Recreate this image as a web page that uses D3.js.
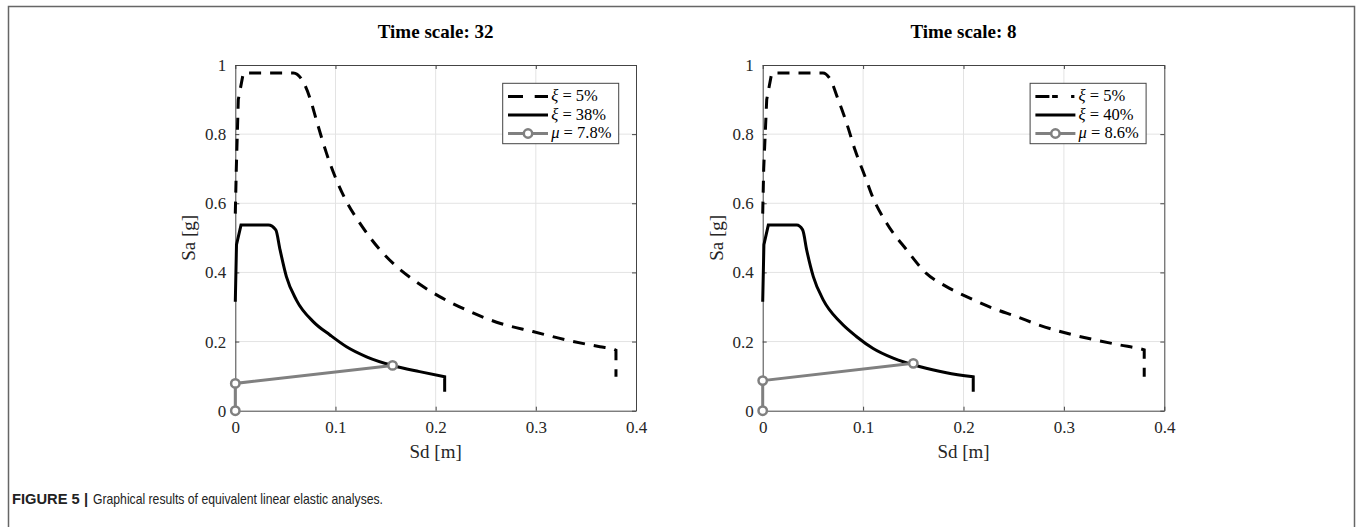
<!DOCTYPE html>
<html>
<head>
<meta charset="utf-8">
<script src="https://cdn.jsdelivr.net/npm/d3@7"></script>
<style>
  body { margin: 0; background: #fff; }
  svg { display: block; }
</style>
</head>
<body>
<svg id="chart" width="1357" height="527"></svg>
<script>
// panel titles and legend labels
const titles = ['Time scale: 32', 'Time scale: 8']
const legendXi5 = ['5%', '5%']
const legendXiEq = ['38%', '40%']
const legendMu = ['7.8%', '8.6%']

const xTicks = [0, 0.1, 0.2, 0.3, 0.4]
const yTicks = [0, 0.2, 0.4, 0.6, 0.8, 1]

// xi = 5% spectrum, [Sd, Sa]
const spec5Left = [[0, 0.57], [0.001, 0.70], [0.003, 0.90], [0.008, 0.977], [0.058, 0.977], [0.066, 0.96],
  [0.075, 0.90], [0.081, 0.84], [0.091, 0.745], [0.101, 0.667], [0.111, 0.605], [0.1245, 0.542],
  [0.1445, 0.465], [0.161, 0.417], [0.178, 0.378], [0.204, 0.33], [0.231, 0.291], [0.264, 0.253],
  [0.297, 0.229], [0.330, 0.205], [0.364, 0.185], [0.378, 0.178], [0.38, 0.175], [0.38, 0.098]]
const spec5Right = [[0, 0.57], [0.001, 0.70], [0.004, 0.90], [0.009, 0.977], [0.060, 0.977], [0.067, 0.96],
  [0.0753, 0.899], [0.0837, 0.831], [0.092, 0.754], [0.102, 0.677], [0.110, 0.615], [0.1235, 0.542],
  [0.1434, 0.465], [0.163, 0.397], [0.183, 0.359], [0.203, 0.33], [0.2297, 0.296], [0.253, 0.272],
  [0.276, 0.247], [0.303, 0.224], [0.329, 0.206], [0.356, 0.19], [0.376, 0.179], [0.38, 0.176], [0.38, 0.098]]

// equivalent damping spectrum
const specEqLeft = [[0, 0.315], [0.0012, 0.48], [0.0057, 0.537], [0.033, 0.537], [0.0404, 0.523],
  [0.0447, 0.465], [0.051, 0.388], [0.061, 0.32], [0.078, 0.257], [0.0945, 0.219], [0.111, 0.185],
  [0.131, 0.156], [0.158, 0.130], [0.184, 0.113], [0.209, 0.098], [0.209, 0.055]]
const specEqRight = [[0, 0.315], [0.0012, 0.48], [0.0056, 0.537], [0.0339, 0.537], [0.0398, 0.523],
  [0.0438, 0.465], [0.0504, 0.388], [0.0604, 0.32], [0.077, 0.257], [0.0936, 0.214], [0.110, 0.18],
  [0.130, 0.152], [0.157, 0.127], [0.183, 0.11], [0.2097, 0.098], [0.2097, 0.055]]

// ductility path
const muLeft = [[0, 0], [0, 0.079], [0.157, 0.131]]
const muRight = [[0, 0], [0, 0.087], [0.150, 0.137]]

const panels = [
  { left: 235.3, right: 636, spec5: spec5Left, specEq: specEqLeft, mu: muLeft, dashLegend: '15,11.7,13.3' },
  { left: 762.7, right: 1164.3, spec5: spec5Right, specEq: specEqRight, mu: muRight, dashLegend: '14,2.7,5.7,13.3,3.3' }
]
const plotTop = 65, plotBottom = 410.7

const svg = d3.select('#chart')
const serif = '"Liberation Serif", "Times New Roman", serif'

svg.append('rect').attr('x', 8.5).attr('y', 6.5).attr('width', 1346).attr('height', 560)
  .attr('fill', 'none').attr('stroke', '#666').attr('stroke-width', 1.5)

panels.forEach(function (p, i) {
  const x = d3.scaleLinear().domain([0, 0.4]).range([p.left, p.right])
  const y = d3.scaleLinear().domain([0, 1]).range([plotBottom, plotTop])
  const g = svg.append('g')

  // grid
  g.selectAll('.gx').data(xTicks.slice(1, -1)).join('line')
    .attr('x1', d => x(d)).attr('x2', d => x(d)).attr('y1', plotTop).attr('y2', plotBottom)
    .attr('stroke', '#e3e3e3').attr('stroke-width', 1)
  g.selectAll('.gy').data(yTicks.slice(1, -1)).join('line')
    .attr('y1', d => y(d)).attr('y2', d => y(d)).attr('x1', p.left).attr('x2', p.right)
    .attr('stroke', '#e3e3e3').attr('stroke-width', 1)

  // axes (ticks inward, box on)
  const ax = g.append('g').attr('transform', 'translate(0,' + plotBottom + ')')
    .call(d3.axisBottom(x).tickValues(xTicks).tickSizeInner(-4).tickSizeOuter(0).tickPadding(10).tickFormat(d3.format('')))
  const axTop = g.append('g').attr('transform', 'translate(0,' + plotTop + ')')
    .call(d3.axisTop(x).tickValues(xTicks).tickSizeInner(-4).tickSizeOuter(0).tickFormat(''))
  const ay = g.append('g').attr('transform', 'translate(' + p.left + ',0)')
    .call(d3.axisLeft(y).tickValues(yTicks).tickSizeInner(-4).tickSizeOuter(0).tickPadding(9).tickFormat(d3.format('')))
  const ayR = g.append('g').attr('transform', 'translate(' + p.right + ',0)')
    .call(d3.axisRight(y).tickValues(yTicks).tickSizeInner(-4).tickSizeOuter(0).tickFormat(''))
  ;[ax, axTop, ay, ayR].forEach(function (a) {
    a.attr('font-family', serif).attr('font-size', 17)
    a.select('.domain').attr('stroke', '#444').attr('stroke-width', 1)
    a.selectAll('.tick line').attr('stroke', '#444')
    a.selectAll('text').style('font-family', serif).attr('font-size', 17).attr('fill', '#262626')
  })
  ax.selectAll('text').attr('dy', '0.71em')

  // curves: straight rise, smooth middle, straight vertical drop
  const lin = d3.line().x(d => x(d[0])).y(d => y(d[1]))
  const smooth = d3.line().x(d => x(d[0])).y(d => y(d[1])).curve(d3.curveMonotoneX)
  function piecewise(data, a) {
    const b = data.length - 2
    return lin(data.slice(0, a + 1)) +
      smooth(data.slice(a, b + 1)).replace(/^M/, 'L') +
      lin(data.slice(b)).replace(/^M/, 'L')
  }
  g.append('path').attr('d', piecewise(p.spec5, 3)).attr('fill', 'none')
    .attr('stroke', '#000').attr('stroke-width', 3).attr('stroke-dasharray', '12,9')
  g.append('path').attr('d', piecewise(p.specEq, 2)).attr('fill', 'none')
    .attr('stroke', '#000').attr('stroke-width', 3)
  g.append('path').datum(p.mu).attr('d', lin).attr('fill', 'none')
    .attr('stroke', '#808080').attr('stroke-width', 3)
  g.selectAll('.mk').data(p.mu).join('circle')
    .attr('cx', d => x(d[0])).attr('cy', d => y(d[1])).attr('r', 4.2)
    .attr('fill', '#fff').attr('stroke', '#808080').attr('stroke-width', 2.5)

  // labels
  g.append('text').attr('x', (p.left + p.right) / 2).attr('y', 38).attr('text-anchor', 'middle')
    .style('font-family', serif).attr('font-weight', 'bold').attr('font-size', 19).text(titles[i])
  g.append('text').attr('x', (p.left + p.right) / 2).attr('y', 458).attr('text-anchor', 'middle')
    .style('font-family', serif).attr('font-size', 19).attr('fill', '#262626').text('Sd [m]')
  g.append('text').attr('transform', 'translate(' + (p.left - 40) + ',' + ((plotTop + plotBottom) / 2) + ') rotate(-90)')
    .attr('text-anchor', 'middle').style('font-family', serif).attr('font-size', 19).attr('fill', '#262626').text('Sa [g]')

  // legend
  const lx = p.left + 267.4, ly = 83.3
  const lg = g.append('g')
  lg.append('rect').attr('x', lx).attr('y', ly).attr('width', 116).attr('height', 60.4)
    .attr('fill', '#fff').attr('stroke', '#444').attr('stroke-width', 1)
  const rows = [
    { sym: 'ξ', val: legendXi5[i], color: '#000', dash: p.dashLegend },
    { sym: 'ξ', val: legendXiEq[i], color: '#000', dash: null },
    { sym: 'μ', val: legendMu[i], color: '#808080', dash: null, marker: true }
  ]
  rows.forEach(function (r, k) {
    const by = ly + 17.7 + k * 18.5
    const sy = by - 4.5
    lg.append('line').attr('x1', lx + 5.3).attr('x2', lx + 45.3).attr('y1', sy).attr('y2', sy)
      .attr('stroke', r.color).attr('stroke-width', 3).attr('stroke-dasharray', r.dash)
    if (r.marker) {
      lg.append('circle').attr('cx', lx + 25.3).attr('cy', sy).attr('r', 4.2)
        .attr('fill', '#fff').attr('stroke', '#808080').attr('stroke-width', 2.5)
    }
    const t = lg.append('text').attr('x', lx + 48.5).attr('y', by)
      .style('font-family', serif).attr('font-size', 16.5).attr('fill', '#000')
    t.append('tspan').attr('font-style', 'italic').text(r.sym)
    t.append('tspan').text(' = ' + r.val)
  })
})

// caption
svg.append('text').attr('x', 12).attr('y', 504)
  .style('font-family', '"Liberation Sans", Arial, sans-serif').attr('font-size', 15).attr('font-weight', 'bold')
  .attr('fill', '#222').attr('textLength', 76).attr('lengthAdjust', 'spacingAndGlyphs').text('FIGURE 5 |')
svg.append('text').attr('x', 93).attr('y', 504)
  .style('font-family', '"Liberation Sans", Arial, sans-serif').attr('font-size', 15)
  .attr('fill', '#222').attr('textLength', 290).attr('lengthAdjust', 'spacingAndGlyphs')
  .text('Graphical results of equivalent linear elastic analyses.')
</script>
</body>
</html>
